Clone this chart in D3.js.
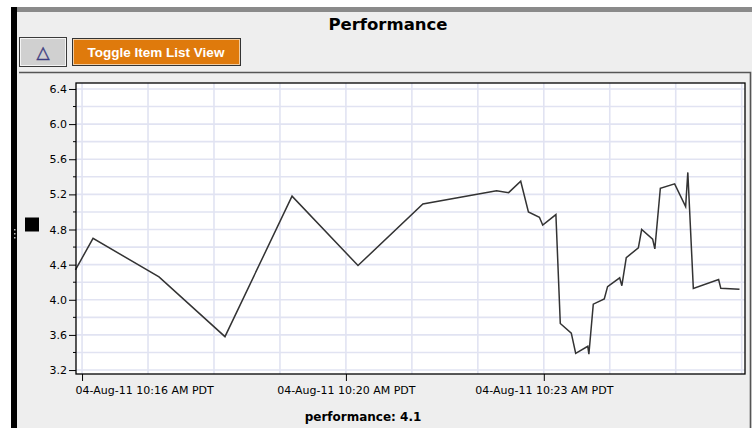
<!DOCTYPE html>
<html>
<head>
<meta charset="utf-8">
<script src="https://cdn.jsdelivr.net/npm/d3@7"></script>
<style>
body{margin:0;background:#fff;}
svg{display:block;font-family:"DejaVu Sans",Verdana,sans-serif;}
</style>
</head>
<body>
<script>
// performance samples, 04-Aug-11 (PDT)
var times=["10:15:54","10:16:10","10:17:10","10:18:10","10:19:11","10:20:11","10:21:10",
    "10:22:17","10:22:28","10:22:39","10:22:46","10:22:56","10:22:59","10:23:11","10:23:15",
    "10:23:25","10:23:29","10:23:40","10:23:41","10:23:45","10:23:55","10:23:58","10:24:09",
    "10:24:11","10:24:15","10:24:26","10:24:29","10:24:39","10:24:41","10:24:46","10:24:59",
    "10:25:09","10:25:11","10:25:16","10:25:39","10:25:41","10:25:58"];
var perf=[4.34,4.70,4.26,3.58,5.18,4.39,5.09,
    5.24,5.22,5.35,5.00,4.94,4.85,4.97,3.73,
    3.62,3.39,3.47,3.38,3.95,4.01,4.15,4.25,
    4.16,4.48,4.59,4.80,4.69,4.58,5.27,5.32,
    5.06,5.45,4.13,4.23,4.13,4.12];
var xTickLabels=["10:16","10:20","10:23"];
var gridMinutes=["10:16","10:17","10:18","10:19","10:20","10:21","10:22","10:23","10:24","10:25","10:26"];
var yTicks=[3.2,3.6,4.0,4.4,4.8,5.2,5.6,6.0,6.4];
var yMinor=[3.4,3.8,4.2,4.6,5.0,5.4,5.8,6.2];
var yGrid=[3.2,3.4,3.6,3.8,4.0,4.2,4.4,4.6,4.8,5.0,5.2,5.4,5.6,5.8,6.0,6.2,6.4];
var currentValue=4.1;

var parseT=function(s){return d3.timeParse("%Y-%m-%d %H:%M:%S")("2011-08-04 "+(s.length==5?s+":00":s));};
var data=times.map(function(t,i){return {t:parseT(t),v:perf[i]};});

var W=752,H=428;
var plot={l:76,t:83,r:745,b:374};

var svg=d3.select("body").append("svg").attr("width",W).attr("height",H);

// window chrome
svg.append("rect").attr("x",11).attr("y",7).attr("width",W-11).attr("height",H-7).attr("fill","#eeeeee");
svg.append("rect").attr("x",11).attr("y",7).attr("width",W-11).attr("height",5).attr("fill","#8a8a8a");
svg.append("rect").attr("x",11).attr("y",7).attr("width",6).attr("height",H-7).attr("fill","#000");
[229,233,237].forEach(function(y){
    svg.append("rect").attr("x",14).attr("y",y).attr("width",1.5).attr("height",1.5).attr("fill","#bbb");
});

svg.append("text").attr("x",388).attr("y",30).attr("text-anchor","middle")
    .attr("font-weight","bold").attr("font-size",16.5).text("Performance");

// buttons
svg.append("rect").attr("x",19.5).attr("y",37.5).attr("width",47).attr("height",29)
    .attr("fill","#d0d0d0").attr("stroke","#3a3a3a");
svg.append("rect").attr("x",20.5).attr("y",38.5).attr("width",45).attr("height",27)
    .attr("fill","none").attr("stroke","#f4f4f4");
svg.append("text").attr("x",43).attr("y",58).attr("text-anchor","middle")
    .attr("font-size",17).attr("fill","#3d3d80").attr("stroke","#3d3d80").attr("stroke-width",0.4).text("△");

svg.append("rect").attr("x",72.5).attr("y",38.5).attr("width",168).attr("height",27)
    .attr("fill","#df7a0c").attr("stroke","#333");
svg.append("rect").attr("x",73.5).attr("y",39.5).attr("width",166).attr("height",25)
    .attr("fill","none").attr("stroke","#f6e0c8").attr("stroke-width",0.8);
svg.append("text").attr("x",156).attr("y",56.5).attr("text-anchor","middle")
    .attr("font-family","'Liberation Sans',Arial,sans-serif").attr("font-weight","bold")
    .attr("font-size",13.5).attr("fill","#fff").text("Toggle Item List View");

// chart panel border
svg.append("path").attr("d","M19,72.5H750.5V"+H).attr("fill","none").attr("stroke","#555").attr("stroke-width",1.6);

// legend swatch
svg.append("rect").attr("x",25).attr("y",217.5).attr("width",14).attr("height",14).attr("fill","#000");

var x=d3.scaleTime()
    .domain([new Date(parseT("10:15:54").getTime()+500),parseT("10:26:03")])
    .range([plot.l,plot.r]);
var y=d3.scaleLinear().domain([3.155,6.468]).range([plot.b,plot.t]);

svg.append("rect").attr("x",plot.l).attr("y",plot.t).attr("width",plot.r-plot.l).attr("height",plot.b-plot.t).attr("fill","#fff");

// grid
svg.append("g").selectAll("line").data(yGrid).enter().append("line")
    .attr("x1",plot.l).attr("x2",plot.r)
    .attr("y1",function(d){return y(d);}).attr("y2",function(d){return y(d);})
    .attr("stroke","#e1e3f2").attr("stroke-width",1.6);
svg.append("g").selectAll("line").data(gridMinutes).enter().append("line")
    .attr("y1",plot.t).attr("y2",plot.b)
    .attr("x1",function(d){return x(parseT(d));}).attr("x2",function(d){return x(parseT(d));})
    .attr("stroke","#e1e3f2").attr("stroke-width",1.6);

// series
var line=d3.line().x(function(d){return x(d.t);}).y(function(d){return y(d.v);});
svg.append("path").datum(data).attr("d",line).attr("fill","none")
    .attr("stroke","#333").attr("stroke-width",1.5).attr("stroke-linejoin","miter");

// plot frame
svg.append("rect").attr("x",plot.l).attr("y",plot.t).attr("width",plot.r-plot.l).attr("height",plot.b-plot.t)
    .attr("fill","none").attr("stroke","#000").attr("stroke-width",1.3);

// y axis
var yAxis=svg.append("g").attr("transform","translate("+plot.l+",0)")
    .call(d3.axisLeft(y).tickValues(yTicks).tickFormat(d3.format(".1f")).tickSize(7).tickPadding(2));
yAxis.select(".domain").remove();
yAxis.selectAll("text").attr("font-size",11).attr("font-family","'DejaVu Sans',Verdana,sans-serif").attr("fill","#000");
svg.append("g").selectAll("line").data(yMinor).enter().append("line")
    .attr("x1",plot.l-3).attr("x2",plot.l)
    .attr("y1",function(d){return y(d);}).attr("y2",function(d){return y(d);})
    .attr("stroke","#000");

// x axis
var xAxis=svg.append("g").attr("transform","translate(0,"+plot.b+")")
    .call(d3.axisBottom(x).tickValues(xTickLabels.map(parseT))
        .tickFormat(function(d){return "04-Aug-11 "+d3.timeFormat("%H:%M %p")(d)+" PDT";})
        .tickSize(7).tickPadding(5));
xAxis.select(".domain").remove();
xAxis.selectAll("text").attr("font-size",11).attr("font-family","'DejaVu Sans',Verdana,sans-serif").attr("fill","#000");
// keep first label inside the plot's left edge
xAxis.selectAll(".tick text").each(function(){
    var b=this.getBBox();
    if(b.x+x(this.__data__)<plot.l-1) d3.select(this).attr("x",plot.l-1-b.x-x(this.__data__));
});

svg.append("text").attr("x",363).attr("y",421).attr("text-anchor","middle")
    .attr("font-weight","bold").attr("font-size",12).text("performance: "+currentValue);
</script>
</body>
</html>
